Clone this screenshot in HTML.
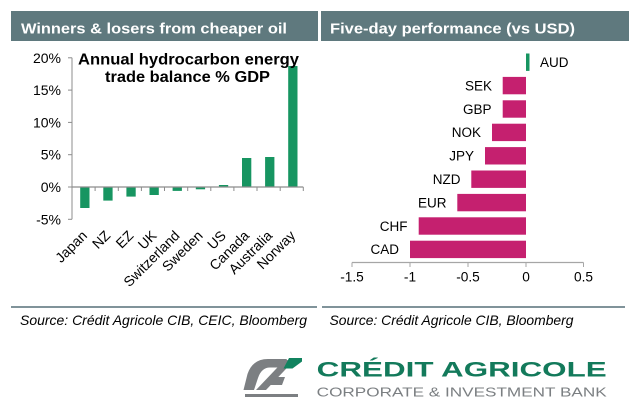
<!DOCTYPE html>
<html>
<head>
<meta charset="utf-8">
<style>
  html, body { margin: 0; padding: 0; background: #ffffff; }
  body { width: 635px; height: 406px; overflow: hidden; }
  svg { display: block; }
  text { font-family: "Liberation Sans", Arial, sans-serif; }
</style>
</head>
<body>
<svg width="635" height="406" viewBox="0 0 635 406" xmlns="http://www.w3.org/2000/svg">
  <rect x="0" y="0" width="635" height="406" fill="#ffffff"/>

  <!-- Headers -->
  <rect x="11" y="11" width="307" height="30" fill="#5f797e"/>
  <rect x="321" y="11" width="308" height="30" fill="#5f797e"/>
  <text x="21" y="33.3" font-size="15" font-weight="bold" fill="#ffffff" textLength="266" lengthAdjust="spacingAndGlyphs">Winners &amp; losers from cheaper oil</text>
  <text x="330" y="33.3" font-size="15" font-weight="bold" fill="#ffffff" textLength="245" lengthAdjust="spacingAndGlyphs">Five-day performance (vs USD)</text>

  <!-- LEFT CHART -->
  <line x1="72" y1="57.8" x2="72" y2="219.3" stroke="#8c8c8c" stroke-width="1"/>
  <g stroke="#8c8c8c" stroke-width="1">
    <line x1="68" y1="57.8" x2="72" y2="57.8"/>
    <line x1="68" y1="90.1" x2="72" y2="90.1"/>
    <line x1="68" y1="122.4" x2="72" y2="122.4"/>
    <line x1="68" y1="154.7" x2="72" y2="154.7"/>
    <line x1="68" y1="187" x2="72" y2="187"/>
    <line x1="68" y1="219.3" x2="72" y2="219.3"/>
  </g>
  <g font-size="14" fill="#000" text-anchor="end">
    <text x="61" y="62.8">20%</text>
    <text x="61" y="95.1">15%</text>
    <text x="61" y="127.4">10%</text>
    <text x="61" y="159.7">5%</text>
    <text x="61" y="192">0%</text>
    <text x="61" y="224.3">-5%</text>
  </g>

  <g fill="#179561">
    <rect x="80.2" y="187" width="9.3" height="21"/>
    <rect x="103.3" y="187" width="9.3" height="13.6"/>
    <rect x="126.4" y="187" width="9.3" height="9.6"/>
    <rect x="149.5" y="187" width="9.3" height="8"/>
    <rect x="172.6" y="187" width="9.3" height="3.9"/>
    <rect x="195.8" y="187" width="9.3" height="2.3"/>
    <rect x="218.9" y="185" width="9.3" height="2"/>
    <rect x="242" y="158" width="9.3" height="29"/>
    <rect x="265.1" y="157" width="9.3" height="30"/>
    <rect x="288.2" y="66" width="9.3" height="121"/>
  </g>

  <line x1="72" y1="187" x2="303.3" y2="187" stroke="#8c8c8c" stroke-width="1.3"/>
  <g stroke="#8c8c8c" stroke-width="1">
    <line x1="95.1" y1="187" x2="95.1" y2="191"/>
    <line x1="118.3" y1="187" x2="118.3" y2="191"/>
    <line x1="141.4" y1="187" x2="141.4" y2="191"/>
    <line x1="164.5" y1="187" x2="164.5" y2="191"/>
    <line x1="187.7" y1="187" x2="187.7" y2="191"/>
    <line x1="210.8" y1="187" x2="210.8" y2="191"/>
    <line x1="233.9" y1="187" x2="233.9" y2="191"/>
    <line x1="257" y1="187" x2="257" y2="191"/>
    <line x1="280.2" y1="187" x2="280.2" y2="191"/>
    <line x1="303.3" y1="187" x2="303.3" y2="191"/>
  </g>

  <g font-size="14" fill="#000" text-anchor="end">
    <text transform="translate(84.6,233) rotate(-45)" dy="0.35em">Japan</text>
    <text transform="translate(107.7,233) rotate(-45)" dy="0.35em">NZ</text>
    <text transform="translate(130.8,233) rotate(-45)" dy="0.35em">EZ</text>
    <text transform="translate(154,233) rotate(-45)" dy="0.35em">UK</text>
    <text transform="translate(177.1,233) rotate(-45)" dy="0.35em">Switzerland</text>
    <text transform="translate(200.2,233) rotate(-45)" dy="0.35em">Sweden</text>
    <text transform="translate(223.4,233) rotate(-45)" dy="0.35em">US</text>
    <text transform="translate(246.5,233) rotate(-45)" dy="0.35em">Canada</text>
    <text transform="translate(269.6,233) rotate(-45)" dy="0.35em">Australia</text>
    <text transform="translate(292.7,233) rotate(-45)" dy="0.35em">Norway</text>
  </g>

  <text x="78" y="64.5" font-size="15.3" font-weight="bold" fill="#000" textLength="221" lengthAdjust="spacingAndGlyphs">Annual hydrocarbon energy</text>
  <text x="105" y="82" font-size="15.3" font-weight="bold" fill="#000" textLength="165" lengthAdjust="spacingAndGlyphs">trade balance % GDP</text>

  <!-- RIGHT CHART -->
  <g fill="#c5206f">
    <rect x="502.7" y="76.9" width="23.3" height="17.4"/>
    <rect x="502.7" y="100.3" width="23.3" height="17.4"/>
    <rect x="492" y="123.7" width="34" height="17.4"/>
    <rect x="485" y="147.1" width="41" height="17.4"/>
    <rect x="471.3" y="170.5" width="54.7" height="17.4"/>
    <rect x="457.3" y="193.9" width="68.7" height="17.4"/>
    <rect x="418.7" y="217.3" width="107.3" height="17.4"/>
    <rect x="410" y="240.7" width="116" height="17.4"/>
  </g>
  <rect x="526" y="53.5" width="3.5" height="17.4" fill="#179561"/>

  <g font-size="13.5" fill="#000" text-anchor="end">
    <text x="492" y="90.4">SEK</text>
    <text x="491.5" y="113.8">GBP</text>
    <text x="481" y="137.2">NOK</text>
    <text x="474" y="160.6">JPY</text>
    <text x="460.5" y="184">NZD</text>
    <text x="446.5" y="207.4">EUR</text>
    <text x="407.5" y="230.8">CHF</text>
    <text x="399" y="254.2">CAD</text>
  </g>
  <text x="540" y="67" font-size="13.5" fill="#000">AUD</text>

  <line x1="352" y1="262.5" x2="583.5" y2="262.5" stroke="#a6a6a6" stroke-width="1.3"/>
  <g stroke="#a6a6a6" stroke-width="1">
    <line x1="352" y1="262.5" x2="352" y2="267"/>
    <line x1="410" y1="262.5" x2="410" y2="267"/>
    <line x1="468" y1="262.5" x2="468" y2="267"/>
    <line x1="526" y1="262.5" x2="526" y2="267"/>
    <line x1="583.5" y1="262.5" x2="583.5" y2="267"/>
  </g>
  <g font-size="13.7" fill="#000" text-anchor="middle">
    <text x="352" y="281.5">-1.5</text>
    <text x="410" y="281.5">-1</text>
    <text x="468" y="281.5">-0.5</text>
    <text x="526" y="281.5">0</text>
    <text x="583.5" y="281.5">0.5</text>
  </g>

  <!-- separators and sources -->
  <rect x="11" y="306" width="306" height="2" fill="#80939a"/>
  <rect x="322" y="306" width="303" height="2" fill="#80939a"/>
  <text x="20" y="325" font-size="14" font-style="italic" fill="#000" textLength="287" lengthAdjust="spacingAndGlyphs">Source: Crédit Agricole CIB, CEIC, Bloomberg</text>
  <text x="329.5" y="325" font-size="14" font-style="italic" fill="#000" textLength="244" lengthAdjust="spacingAndGlyphs">Source: Crédit Agricole CIB, Bloomberg</text>

  <!-- Logo -->
  <g fill="#7c7f82">
    <path d="M268 359 L287 359 L282 367.5 L270 367.5 Q261.5 367.5 258 378 L254 390 L243.5 390 L247.5 374 Q252.5 359 268 359 Z"/>
    <polygon points="256,390 266,390 293,361.5 285,359.5"/>
    <polygon points="267,385 282,385 285,377 271,377"/>
    <rect x="245" y="394" width="53" height="3"/>
  </g>
  <polygon points="289,358 302,358 302,361.5 292.5,368.5 283.5,368.5" fill="#11835f"/>
  <text x="316.7" y="376.5" font-size="21" font-weight="bold" fill="#137a5b" textLength="290" lengthAdjust="spacingAndGlyphs">CRÉDIT AGRICOLE</text>
  <text x="316.7" y="396.7" font-size="13" fill="#7b7f82" textLength="290" lengthAdjust="spacingAndGlyphs">CORPORATE &amp; INVESTMENT BANK</text>
</svg>
</body>
</html>
